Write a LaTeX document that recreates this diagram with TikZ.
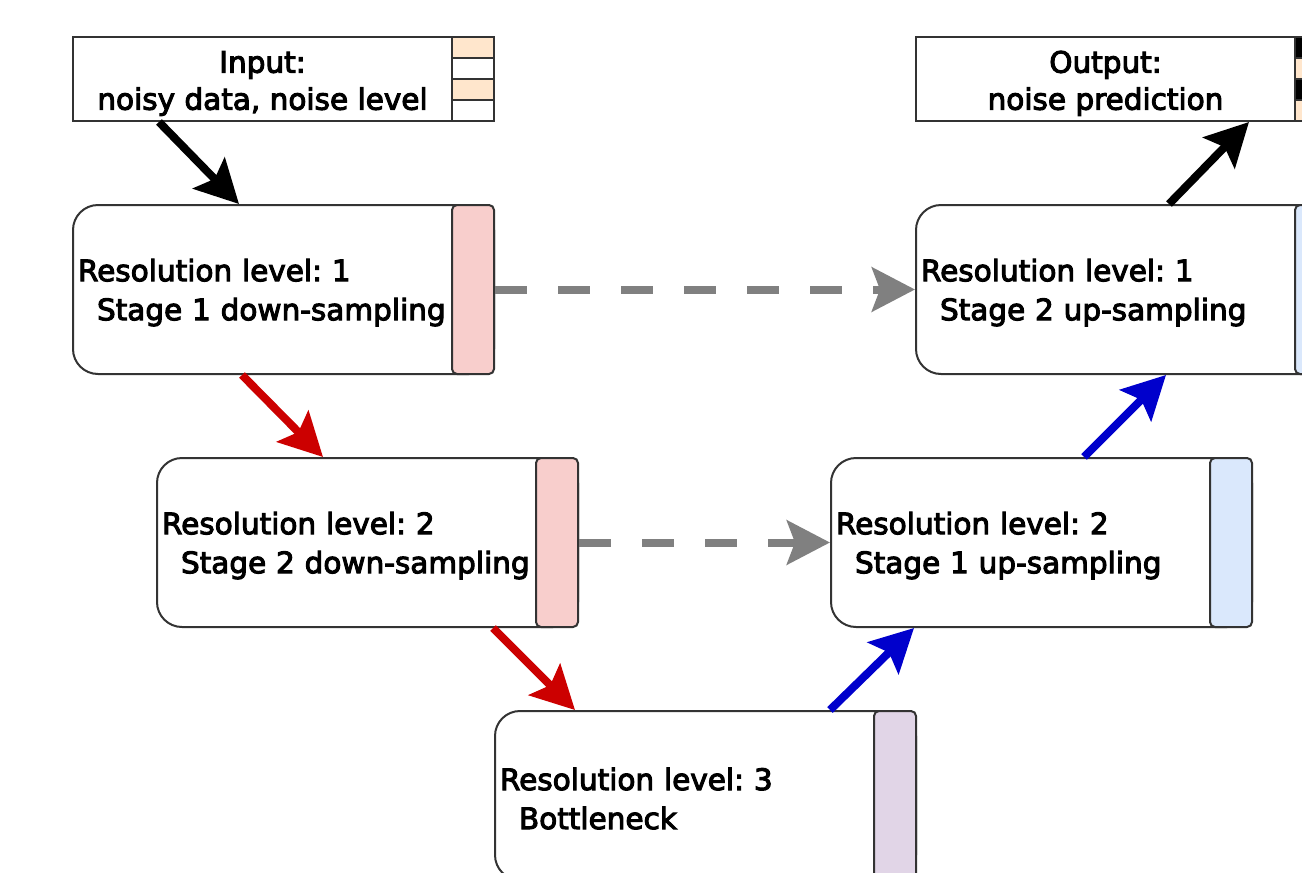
\documentclass[tikz,border=0pt]{standalone}
\usepackage{fontspec}
\setmainfont{DejaVu Sans}[FakeBold=3.5]
\usetikzlibrary{arrows.meta,calc}

\definecolor{edge}{HTML}{333333}
\definecolor{pinkbar}{HTML}{F8CECC}
\definecolor{bluebar}{HTML}{DAE8FC}
\definecolor{purplebar}{HTML}{E1D5E7}
\definecolor{peach}{HTML}{FFE6CC}
\definecolor{downred}{HTML}{CC0000}
\definecolor{upblue}{HTML}{0000CC}
\definecolor{skipgray}{HTML}{808080}

\tikzset{
  stagebox/.style={draw=edge, line width=2pt, fill=white, rounded corners=25pt,
    minimum width=421pt, minimum height=169pt, text width=411pt,
    inner xsep=5pt, inner ysep=0pt, align=left, text height=28.5pt,
    font=\fontsize{29.5pt}{39pt}\selectfont\frenchspacing},
  bar/.style={draw=edge, line width=2pt, rounded corners=5pt,
    minimum width=42pt, minimum height=169pt, inner sep=0pt},
  iobox/.style={draw=edge, line width=2pt, fill=white,
    minimum width=379pt, minimum height=84pt, inner sep=0pt, align=center,
    text height=67.5pt,
    font=\fontsize{29.5pt}{37pt}\selectfont\frenchspacing},
  cell/.style={draw=edge, line width=2pt, minimum width=42pt,
    minimum height=21pt, inner sep=0pt},
  flow/.style={line width=8pt,
    -{Stealth[length=43pt, width=44pt, inset=8pt]}},
  skip/.style={flow, draw=skipgray, dash pattern=on 32pt off 31pt},
}

\begin{document}
\begin{tikzpicture}[x=1pt, y=-1pt]
\useasboundingbox (0,0) rectangle (1302,873);
\clip (0,0) rectangle (1302,873);
\fill[white] (0,0) rectangle (1302,873);

% input and output boxes with their striped cells
\node[iobox] (in) at (262.5,79) {Input:\\noisy data, noise level};
\node[cell, fill=peach] (in1) at (473,47.5) {};
\node[cell, fill=white] (in2) at (473,68.5) {};
\node[cell, fill=peach] (in3) at (473,89.5) {};
\node[cell, fill=white] (in4) at (473,110.5) {};

\node[iobox] (out) at (1105.5,79) {Output:\\noise prediction};
\node[cell, fill=black] (out1) at (1316,47.5) {};
\node[cell, fill=peach] (out2) at (1316,68.5) {};
\node[cell, fill=black] (out3) at (1316,89.5) {};
\node[cell, fill=peach] (out4) at (1316,110.5) {};

% encoder, bottleneck and decoder stages
\node[stagebox] (s1) at (283.5,289.5)
  {Resolution level: 1\\\hspace*{19pt}Stage 1 down-sampling};
\node[bar, fill=pinkbar, anchor=east] (s1bar) at (s1.east) {};

\node[stagebox] (d2) at (367.5,542.5)
  {Resolution level: 2\\\hspace*{19pt}Stage 2 down-sampling};
\node[bar, fill=pinkbar, anchor=east] (d2bar) at (d2.east) {};

\node[stagebox] (bn) at (705.5,795.5)
  {Resolution level: 3\\\hspace*{19pt}Bottleneck};
\node[bar, fill=purplebar, anchor=east] (bnbar) at (bn.east) {};

\node[stagebox] (u2) at (1041.5,542.5)
  {Resolution level: 2\\\hspace*{19pt}Stage 1 up-sampling};
\node[bar, fill=bluebar, anchor=east] (u2bar) at (u2.east) {};

\node[stagebox] (u1) at (1126.5,289.5)
  {Resolution level: 1\\\hspace*{19pt}Stage 2 up-sampling};
\node[bar, fill=bluebar, anchor=east] (u1bar) at (u1.east) {};

% skip connections
\draw[skip] (s1bar.east) -- (u1.west);
\draw[skip] (d2bar.east) -- (u2.west);

% main data flow
\draw[flow, draw=black] ([xshift=87pt]in.south west) -- ([xshift=167pt]s1.north west);
\draw[flow, draw=downred] ([xshift=170pt]s1.south west) -- ([xshift=167pt]d2.north west);
\draw[flow, draw=downred] ([xshift=337pt]d2.south west) -- ([xshift=81pt]bn.north west);
\draw[flow, draw=upblue] ([xshift=336pt]bn.north west) -- ([xshift=84pt]u2.south west);
\draw[flow, draw=upblue] ([xshift=254pt]u2.north west) -- ([xshift=251pt]u1.south west);
\draw[flow, draw=black] ([xshift=254pt]u1.north west) -- ([xshift=334pt]out.south west);
\end{tikzpicture}
\end{document}
